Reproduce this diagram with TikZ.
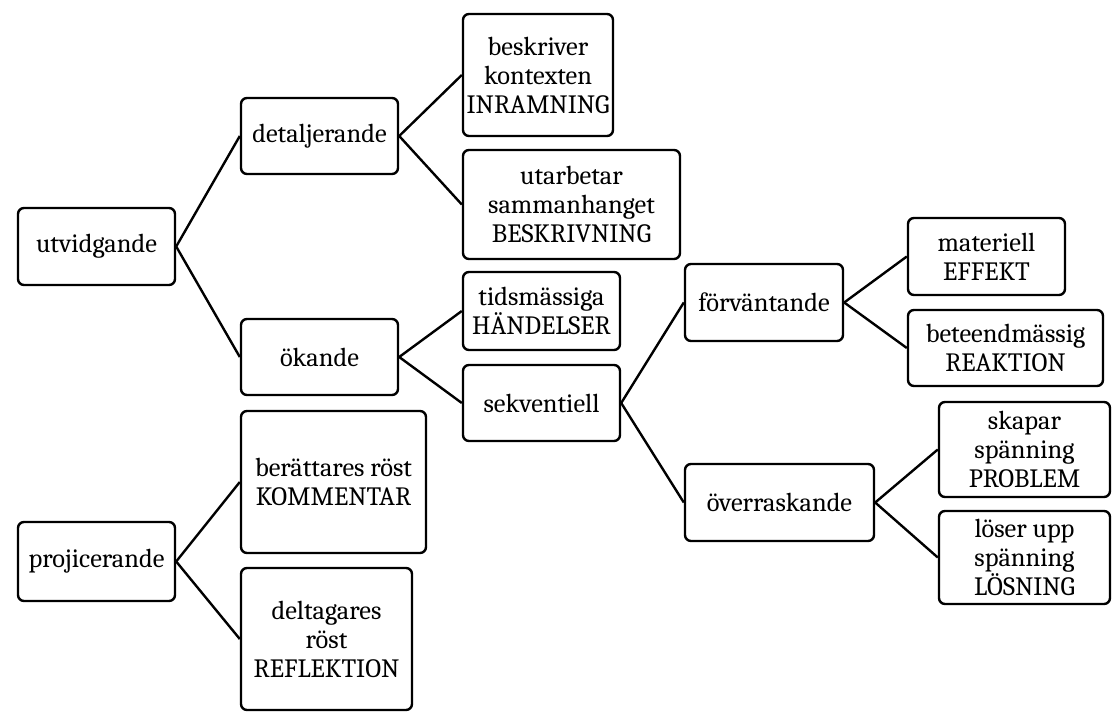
\documentclass[tikz,border=0pt]{standalone}
\usepackage{fontspec}
\setmainfont{Caladea}
\tikzset{
  bx/.style={draw=black, line width=2.4pt, rounded corners=6pt, fill=white,
    align=center, inner sep=0pt, font=\fontsize{26.4}{29}\selectfont},
  link/.style={draw=black, line width=2.4pt}
}
\begin{document}
\begin{tikzpicture}[x=1pt,y=-1pt]
\useasboundingbox (0,0) rectangle (1112,713);
\node[bx, minimum width=157pt, minimum height=77pt] (ut) at (96.5,246.5) {utvidgande};
\node[bx, minimum width=157pt, minimum height=76pt] (det) at (319.5,136) {detaljerande};
\node[bx, minimum width=150pt, minimum height=122pt] (besk) at (538,75) {beskriver\\kontexten\\INRAMNING};
\node[bx, minimum width=217pt, minimum height=109pt] (utarb) at (571.5,204.5) {utarbetar\\sammanhanget\\BESKRIVNING};
\node[bx, minimum width=157pt, minimum height=78pt] (tids) at (541.5,311) {tidsmässiga\\HÄNDELSER};
\node[bx, minimum width=157pt, minimum height=76pt] (ok) at (319.5,357) {ökande};
\node[bx, minimum width=157pt, minimum height=76pt] (sekv) at (541.5,403) {sekventiell};
\node[bx, minimum width=158pt, minimum height=77pt] (forv) at (764,302.5) {förväntande};
\node[bx, minimum width=157pt, minimum height=77pt] (mat) at (986.5,256.5) {materiell\\EFFEKT};
\node[bx, minimum width=195pt, minimum height=76pt] (bet) at (1005.5,348) {beteendmässig\\REAKTION};
\node[bx, minimum width=189pt, minimum height=77pt] (over) at (779.5,502.5) {överraskande};
\node[bx, minimum width=171pt, minimum height=95pt] (skap) at (1024.5,449.5) {skapar\\spänning\\PROBLEM};
\node[bx, minimum width=171pt, minimum height=93pt] (los) at (1024.5,557.5) {löser upp\\spänning\\LÖSNING};
\node[bx, minimum width=157pt, minimum height=79pt] (proj) at (96.5,561.5) {projicerande};
\node[bx, minimum width=185pt, minimum height=142pt] (ber) at (333.5,482) {berättares röst\\KOMMENTAR};
\node[bx, minimum width=171pt, minimum height=142pt] (delt) at (326.5,639) {deltagares\\röst\\REFLEKTION};
\draw[link] (ut.east) -- (det.west);
\draw[link] (ut.east) -- (ok.west);
\draw[link] (det.east) -- (besk.west);
\draw[link] (det.east) -- (utarb.west);
\draw[link] (ok.east) -- (tids.west);
\draw[link] (ok.east) -- (sekv.west);
\draw[link] (sekv.east) -- (forv.west);
\draw[link] (sekv.east) -- (over.west);
\draw[link] (forv.east) -- (mat.west);
\draw[link] (forv.east) -- (bet.west);
\draw[link] (over.east) -- (skap.west);
\draw[link] (over.east) -- (los.west);
\draw[link] (proj.east) -- (ber.west);
\draw[link] (proj.east) -- (delt.west);
\end{tikzpicture}
\end{document}
